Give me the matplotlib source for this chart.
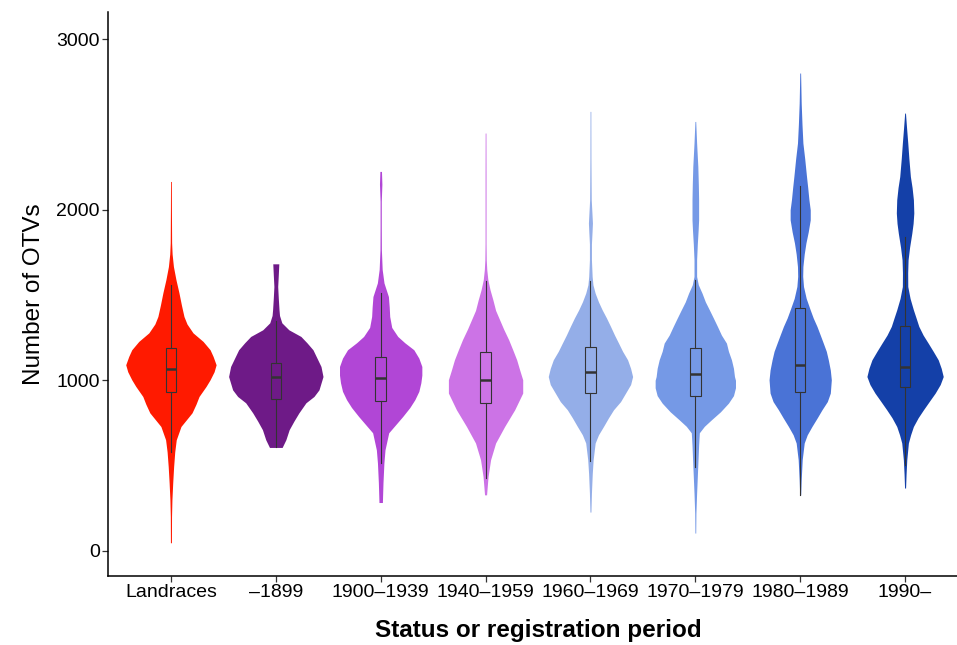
import numpy as np
import matplotlib
matplotlib.use("Agg")
import matplotlib.pyplot as plt

plt.rcParams['font.family'] = ['Liberation Sans', 'DejaVu Sans']

# categories and colours
groups = ["Landraces", "\u20131899", "1900\u20131939", "1940\u20131959",
          "1960\u20131969", "1970\u20131979", "1980\u20131989", "1990\u2013"]
colors = ["#FF1A00", "#6E1A87", "#B146D6", "#CC73E6",
          "#94AEE8", "#7599E6", "#4A73D6", "#1440A8"]

# violin outlines: OTV level and relative density
land_y = [47, 200, 299, 400, 494, 580, 651, 729, 809, 860, 905, 964, 1003, 1050, 1091,
          1140, 1179, 1228, 1278, 1330, 1374, 1440, 1513, 1590, 1667, 1740, 1806, 2000, 2166]
land_d = [0.5, 0.6, 1, 1.8, 2.7, 3.8, 5.3, 10, 21, 25, 28, 35, 39, 43, 45,
          42, 39, 32, 22, 16, 13, 10.5, 8, 5, 2.5, 1.2, 0.7, 0.5, 0.4]

p1899_y = [606, 651, 710, 760, 809, 868, 905, 944, 1022, 1081, 1130, 1179, 1220, 1257,
           1296, 1337, 1380, 1413, 1480, 1550, 1620, 1683]
p1899_d = [6.3, 10, 13.3, 18, 23, 30, 38, 43, 47, 45, 41, 37, 31, 25,
           13, 6, 3.7, 3.2, 2.5, 1.9, 2.5, 3]

p1900_y = [283, 399, 514, 592, 692, 740, 788, 840, 886, 935, 985, 1030, 1081, 1130,
           1179, 1220, 1257, 1310, 1374, 1430, 1491, 1571, 1650, 1765, 1900, 2050, 2150, 2225]
p1900_d = [1.7, 2.3, 3.2, 4.3, 8, 15, 22, 29, 34, 38, 40, 41, 41, 38,
           33, 24, 17, 11, 9, 8.5, 7.7, 3.3, 1.5, 0.7, 0.6, 0.6, 1.2, 0.8]

p1940_y = [328, 436, 534, 632, 729, 827, 925, 1003, 1060, 1120, 1180, 1238, 1300, 1355,
           1410, 1472, 1530, 1589, 1650, 1707, 1800, 2000, 2200, 2450]
p1940_d = [1, 2.5, 5, 10, 19, 29, 37, 37, 34, 31, 27, 23, 18, 14,
           10, 7.3, 4.5, 2.3, 1.2, 0.7, 0.5, 0.5, 0.5, 0.4]

p1960_y = [227, 338, 450, 534, 632, 680, 729, 780, 827, 875, 925, 975, 1022, 1070, 1120,
           1170, 1218, 1265, 1316, 1365, 1413, 1460, 1511, 1560, 1609, 1707, 1800, 1870,
           1922, 1980, 2059, 2300, 2577]
p1960_d = [0.5, 1, 1.8, 2.7, 4.7, 8, 13, 18, 23, 30, 35, 40, 42, 40, 37,
           32, 28, 24, 20, 16, 11.7, 8, 4.7, 2.5, 1.7, 1, 1, 1.6,
           2, 1.5, 0.8, 0.5, 0.4]

p1970_y = [104, 220, 338, 436, 534, 620, 692, 730, 768, 815, 866, 910, 956, 1000, 1022,
           1070, 1120, 1170, 1218, 1265, 1316, 1365, 1413, 1460, 1511, 1560, 1609, 1707,
           1800, 1880, 1941, 2059, 2150, 2254, 2391, 2518]
p1970_d = [0.4, 0.6, 1.3, 2, 2.7, 3.3, 4, 9, 16, 25, 33, 38, 40, 40, 39,
           38, 36, 33, 31, 26, 22, 18, 14, 10, 6.7, 3, 1.3, 1.3,
           2, 2.8, 3.3, 3.3, 3, 2.5, 1.3, 0.4]

p1980_y = [328, 416, 534, 632, 680, 729, 780, 827, 875, 925, 1003, 1060, 1120, 1170,
           1218, 1265, 1316, 1365, 1413, 1480, 1550, 1610, 1667, 1740, 1805, 1870, 1941,
           2000, 2059, 2130, 2195, 2300, 2391, 2500, 2626, 2802]
p1980_d = [0.5, 1, 2, 4, 7, 11.7, 17, 21.7, 27, 30, 31, 30, 28, 26,
           23, 20, 16.7, 13, 10, 6, 3.3, 2.5, 2.7, 4, 5.7, 8, 10,
           10, 8.7, 7.5, 6.3, 4.5, 2.7, 1.8, 1, 0.4]

p1990_y = [368, 450, 534, 632, 680, 729, 780, 827, 875, 925, 975, 1022, 1070, 1120,
           1170, 1218, 1265, 1316, 1365, 1413, 1480, 1550, 1630, 1707, 1780, 1862, 1920,
           1981, 2059, 2130, 2195, 2300, 2391, 2480, 2567]
p1990_d = [0.5, 1, 1.7, 3.3, 5.5, 8.3, 13, 18.3, 24, 30, 35, 38, 36, 33,
           28, 23, 18, 13.7, 11, 8.3, 5, 2.7, 2.6, 3, 4.5, 6.7, 8,
           8.7, 8.3, 7, 5.3, 3.8, 2.7, 1.5, 0.4]

violin_y = [land_y, p1899_y, p1900_y, p1940_y, p1960_y, p1970_y, p1980_y, p1990_y]
violin_d = [land_d, p1899_d, p1900_d, p1940_d, p1960_d, p1970_d, p1980_d, p1990_d]

# box statistics: lower whisker, Q1, median, Q3, upper whisker
whis_lo = [577, 606, 514, 426, 524, 494, 328, 504]
q1 = [931, 893, 878, 866, 925, 909, 931, 960]
median = [1069, 1018, 1011, 999, 1046, 1038, 1091, 1077]
q3 = [1187, 1101, 1134, 1163, 1194, 1189, 1423, 1316]
whis_hi = [1560, 1345, 1511, 1585, 1580, 1589, 2141, 1843]

fig = plt.figure(figsize=(9.57, 6.45), dpi=100)
ax = fig.add_axes([108 / 957, 69 / 645, 860 / 957, 564 / 645])

pos = np.arange(1, len(groups) + 1)
dmax = max(max(d) for d in violin_d)
for i, (yy, dd) in enumerate(zip(violin_y, violin_d)):
    half = np.array(dd) * 0.45 / dmax
    ax.fill_betweenx(yy, pos[i] - half, pos[i] + half, color=colors[i], lw=0, zorder=1)

stats = []
for i in range(len(groups)):
    stats.append(dict(whislo=whis_lo[i], q1=q1[i], med=median[i], q3=q3[i],
                      whishi=whis_hi[i], fliers=[]))
bp = ax.bxp(stats, positions=pos, widths=0.1, showcaps=False, showfliers=False,
            patch_artist=True,
            boxprops=dict(edgecolor="#333333", linewidth=0.8),
            whiskerprops=dict(color="#333333", linewidth=0.8),
            medianprops=dict(color="#333333", linewidth=1.8),
            zorder=2)
for patch, c in zip(bp['boxes'], colors):
    patch.set_facecolor(c)

ax.set_xlim(0.4, 8.6)
ax.set_ylim(-148, 3160)
ax.set_yticks([0, 1000, 2000, 3000])
ax.set_xticks(pos)
ax.set_xticklabels(groups)

for s in ['top', 'right']:
    ax.spines[s].set_visible(False)
for s in ['left', 'bottom']:
    ax.spines[s].set_linewidth(1.1)
    ax.spines[s].set_color("black")
ax.tick_params(axis='both', length=4, width=0.9, color="#333333",
               labelsize=14, labelcolor="black", pad=2)

ax.set_xlabel("Status or registration period", fontsize=17.5, fontweight='bold', labelpad=13)
ax.set_ylabel("Number of OTVs", fontsize=17.5, labelpad=8)

fig.savefig("out.png", dpi=100)
